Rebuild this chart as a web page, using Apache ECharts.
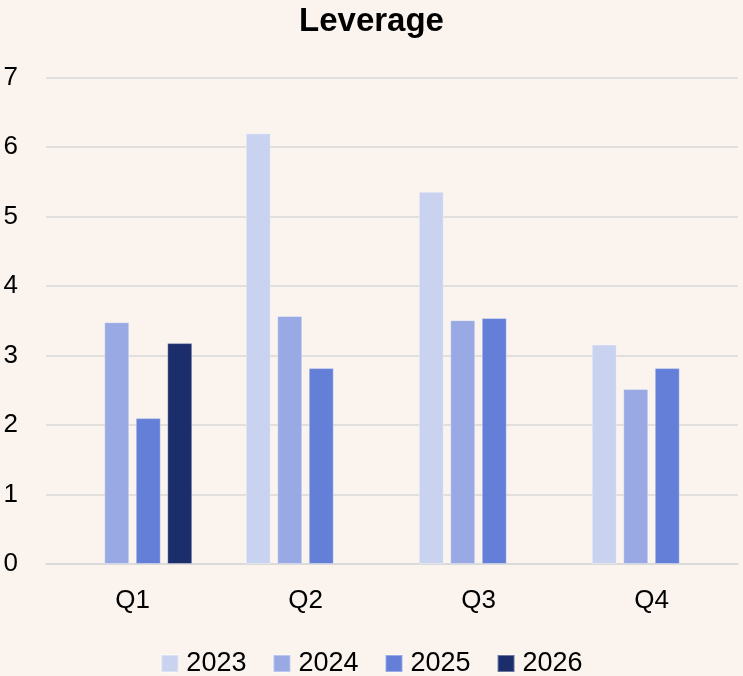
<!DOCTYPE html>
<html>
<head>
<meta charset="utf-8">
<script src="https://cdn.jsdelivr.net/npm/echarts@6/dist/echarts.min.js"></script>
<style>
html,body{margin:0;padding:0;background:#FBF4EE;}
#chart{width:743px;height:676px;}
</style>
</head>
<body>
<div id="chart"></div>
<script>
const categories = ['Q1', 'Q2', 'Q3', 'Q4'];
const seriesNames = ['2023', '2024', '2025', '2026'];
const values2023 = [null, 6.20, 5.36, 3.16];
const values2024 = [3.48, 3.57, 3.51, 2.52];
const values2025 = [2.10, 2.82, 3.54, 2.82];
const values2026 = [3.18, null, null, null];
const colors = ['#C9D3F0', '#98A9E3', '#647FD7', '#1B2D6B'];
const yTicks = [0, 1, 2, 3, 4, 5, 6, 7];

const font = 'Liberation Sans, Arial, sans-serif';
const allValues = [values2023, values2024, values2025, values2026];

const chart = echarts.init(document.getElementById('chart'), null, {renderer: 'canvas'});
chart.setOption({
  backgroundColor: '#FBF4EE',
  animation: false,
  title: {
    text: 'Leverage',
    left: 'center',
    top: 0,
    textStyle: {fontFamily: font, fontSize: 33, fontWeight: 'bold', color: '#000'}
  },
  legend: {
    top: 645,
    left: 'center',
    itemWidth: 17,
    itemHeight: 17,
    itemGap: 26,
    icon: 'rect',
    textStyle: {fontFamily: font, fontSize: 27, color: '#000', padding: [0, 0, 0, 3]},
    data: seriesNames
  },
  grid: {left: 46, right: 5, top: 77.7, bottom: 112, containLabel: false},
  xAxis: {
    type: 'category',
    data: categories,
    axisLine: {show: true, lineStyle: {color: '#D9D9D9', width: 1.5}},
    axisTick: {show: false},
    axisLabel: {fontFamily: font, fontSize: 26, color: '#000', margin: 24}
  },
  yAxis: {
    type: 'value',
    min: yTicks[0],
    max: yTicks[yTicks.length - 1],
    interval: 1,
    axisLine: {show: false},
    axisTick: {show: false},
    splitLine: {lineStyle: {color: '#D9D9D9', width: 1.5}},
    axisLabel: {fontFamily: font, fontSize: 26, color: '#000', margin: 28, align: 'right'}
  },
  series: seriesNames.map((name, i) => ({
    name: name,
    type: 'bar',
    data: allValues[i],
    barWidth: 25,
    barGap: '26%',
    itemStyle: {color: colors[i], borderColor: 'rgba(255,255,255,0.35)', borderWidth: 1}
  }))
});
</script>
</body>
</html>
